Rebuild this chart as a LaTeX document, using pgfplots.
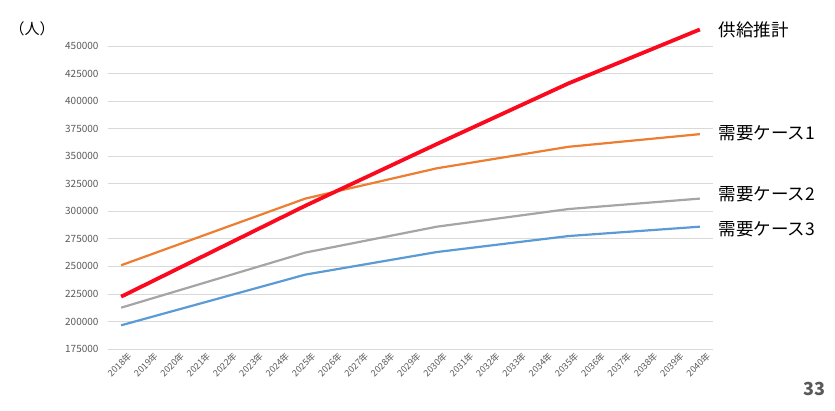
\documentclass[border=0pt]{standalone}
\usepackage{pgfplots}
\pgfplotsset{compat=1.18}
\usepackage{fontspec}
\setmainfont{Noto Sans CJK JP}
\definecolor{supc}{RGB}{250,10,30}
\definecolor{c1}{RGB}{237,125,49}
\definecolor{c2}{RGB}{165,165,165}
\definecolor{c3}{RGB}{91,155,213}
\definecolor{gridc}{RGB}{217,217,217}
\definecolor{tickc}{RGB}{89,89,89}
\begin{document}
\begin{tikzpicture}[x=1pt,y=1pt]
\useasboundingbox (0,0) rectangle (835,411);
\begin{axis}[
  at={(108pt,62pt)}, anchor=south west,
  scale only axis, width=605pt, height=303pt,
  xmin=-0.5, xmax=22.5, ymin=175000, ymax=450000,
  clip=false,
  axis line style={draw=none},
  major tick length=0pt,
  ytick={175000,200000,...,450000},
  ymajorgrids, grid style={gridc, line width=0.8pt},
  yticklabel style={font=\fontsize{10}{11}\selectfont, text=tickc, /pgf/number format/fixed, /pgf/number format/1000 sep={}, xshift=-6pt},
  scaled y ticks=false,
  /pgf/number format/assume math mode=true,
  xtick={0,...,22},
  xticklabels={2018年,2019年,2020年,2021年,2022年,2023年,2024年,2025年,2026年,2027年,2028年,2029年,2030年,2031年,2032年,2033年,2034年,2035年,2036年,2037年,2038年,2039年,2040年},
  xticklabel style={font=\fontsize{9}{10}\selectfont, text=tickc, rotate=45, anchor=north east, inner sep=0.5pt, yshift=-5pt, xshift=3pt},
]
\addplot[c3, line width=2.2pt] coordinates {(0,196500) (7,242500) (12,263000) (17,277500) (22,286000)};
\addplot[c2, line width=2.2pt] coordinates {(0,212500) (7,262500) (12,286000) (17,302000) (22,311500)};
\addplot[c1, line width=2.2pt] coordinates {(0,251000) (7,311500) (12,339000) (17,358500) (22,370000)};
\addplot[supc, line width=3.8pt] coordinates {(0,222500) (7,305000) (12,361000) (17,416000) (22,465000)};
\end{axis}
\node[anchor=west, font=\fontsize{15}{16}\selectfont] at (6,382) {（人）};
\node[anchor=west, font=\fontsize{17.5}{18}\selectfont] at (715,381) {供給推計};
\node[anchor=west, font=\fontsize{17.5}{18}\selectfont] at (715,278) {需要ケース1};
\node[anchor=west, font=\fontsize{17.5}{18}\selectfont] at (715,217) {需要ケース2};
\node[anchor=west, font=\fontsize{17.5}{18}\selectfont] at (715,182) {需要ケース3};
\node[anchor=east, font=\fontsize{18}{19}\bfseries\selectfont, text=tickc] at (829,22) {33};
\end{tikzpicture}
\end{document}
